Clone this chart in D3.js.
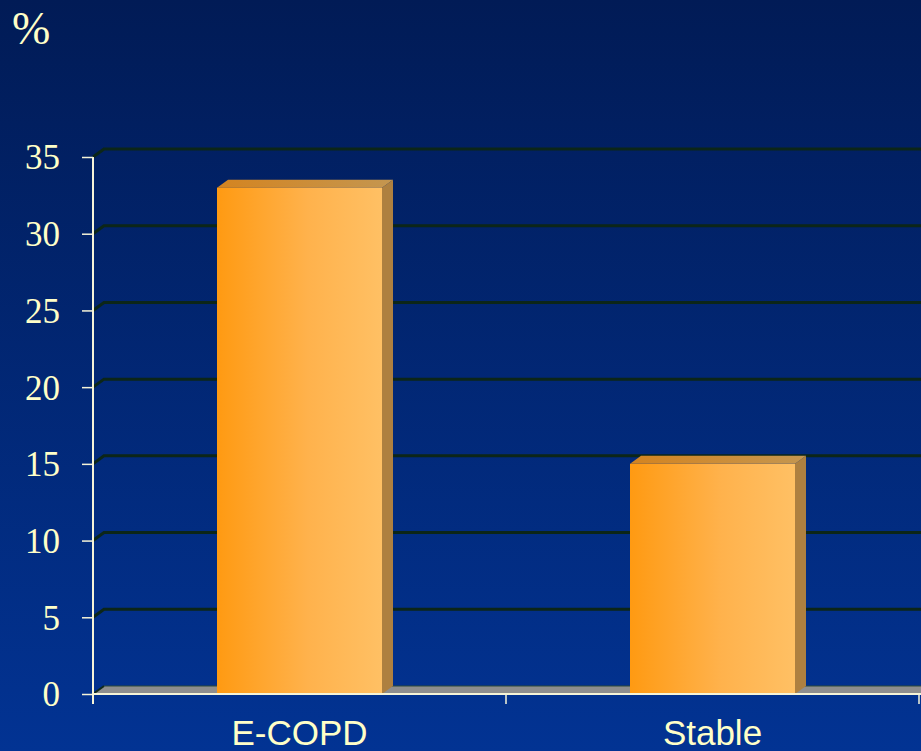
<!DOCTYPE html>
<html>
<head>
<meta charset="utf-8">
<script src="https://cdn.jsdelivr.net/npm/d3@7"></script>
<style>
  html, body { margin: 0; padding: 0; background: #012060; }
  svg { display: block; }
</style>
</head>
<body>
<svg id="chart" width="921" height="751"></svg>
<script>
// Chart data
const categories = ["E-COPD", "Stable"];
const values = [33, 15];
const yTicks = [0, 5, 10, 15, 20, 25, 30, 35];
const unitLabel = "%";

const W = 921, H = 751;
const svg = d3.select("#chart");
const defs = svg.append("defs");

// Background: navy gradient, darker at top
const bg = defs.append("linearGradient").attr("id", "bg").attr("x1", 0).attr("y1", 0).attr("x2", 0).attr("y2", 1);
bg.append("stop").attr("offset", "0%").attr("stop-color", "#011b56");
bg.append("stop").attr("offset", "100%").attr("stop-color", "#023393");
svg.append("rect").attr("width", W).attr("height", H).attr("fill", "url(#bg)");

// Bar face gradients
const front = defs.append("linearGradient").attr("id", "front").attr("x1", 0).attr("y1", 0).attr("x2", 1).attr("y2", 0);
front.append("stop").attr("offset", "0%").attr("stop-color", "#ff9a12");
front.append("stop").attr("offset", "55%").attr("stop-color", "#ffb24c");
front.append("stop").attr("offset", "100%").attr("stop-color", "#ffc064");
const topG = defs.append("linearGradient").attr("id", "topface").attr("x1", 0).attr("y1", 0).attr("x2", 1).attr("y2", 0);
topG.append("stop").attr("offset", "0%").attr("stop-color", "#d48420");
topG.append("stop").attr("offset", "100%").attr("stop-color", "#c49650");

// Layout
const x0 = 93, x1 = 919;
const depthX = 11, depthY = -8;
const y = d3.scaleLinear().domain([0, 35]).range([694, 157]);
const x = d3.scaleBand().domain(categories).range([x0, x1]).paddingInner(0).paddingOuter(0);
const barW = 165;

// Floor (gray depth plane under zero line)
svg.append("path")
  .attr("d", `M${x0},${y(0)} L${x0 + depthX},${y(0) + depthY} L${W + 20},${y(0) + depthY} L${W + 20},${y(0)} Z`)
  .attr("fill", "#8e8e8e");
svg.append("line")
  .attr("x1", x0).attr("y1", y(0)).attr("x2", x0 + depthX).attr("y2", y(0) + depthY)
  .attr("stroke", "#0f2a1e").attr("stroke-width", 2);
svg.append("line")
  .attr("x1", x0 + depthX).attr("y1", y(0) + depthY).attr("x2", W + 20).attr("y2", y(0) + depthY)
  .attr("stroke", "#2d4a3a").attr("stroke-width", 1);

// Gridlines on the back wall with a diagonal link to the axis
const grid = svg.append("g");
yTicks.filter(v => v > 0).forEach(v => {
  grid.append("path")
    .attr("d", `M${x0},${y(v)} L${x0 + depthX},${y(v) + depthY} L${W + 20},${y(v) + depthY}`)
    .attr("fill", "none")
    .attr("stroke", "#0c2618")
    .attr("stroke-width", 3);
});

// 3D bars
const bars = svg.append("g");
categories.forEach((c, i) => {
  const v = values[i];
  const bx = x(c) + (x.bandwidth() - barW) / 2;
  const by = y(v), b0 = y(0);
  // side face
  bars.append("path")
    .attr("d", `M${bx + barW},${by} L${bx + barW + depthX},${by + depthY} L${bx + barW + depthX},${b0 + depthY} L${bx + barW},${b0} Z`)
    .attr("fill", "#ae8040");
  // top face
  bars.append("path")
    .attr("d", `M${bx},${by} L${bx + depthX},${by + depthY} L${bx + barW + depthX},${by + depthY} L${bx + barW},${by} Z`)
    .attr("fill", "url(#topface)");
  // front face
  bars.append("rect")
    .attr("x", bx).attr("y", by).attr("width", barW).attr("height", b0 - by)
    .attr("fill", "url(#front)");
});

// Axes
const axisColor = "#f6f4d8";
const yAxis = d3.axisLeft(y).tickValues(yTicks).tickSize(11).tickPadding(0).tickFormat(d3.format("d"));
const gy = svg.append("g").attr("transform", `translate(${x0},0)`).call(yAxis);
gy.select(".domain").remove();
gy.selectAll(".tick line").attr("stroke", axisColor).attr("stroke-width", 1.5);
gy.selectAll(".tick text")
  .attr("x", -33)
  .attr("dy", "0.34em")
  .attr("fill", "#ffffc8")
  .style("font-family", "'Liberation Serif', 'Times New Roman', serif")
  .style("font-size", "35px");
svg.append("line")
  .attr("x1", x0).attr("y1", y(35)).attr("x2", x0).attr("y2", y(0) + 10)
  .attr("stroke", axisColor).attr("stroke-width", 2);

const xAxis = d3.axisBottom(x).tickSize(0).tickPadding(0);
const gx = svg.append("g").attr("transform", `translate(0,${y(0)})`).call(xAxis);
gx.select(".domain").remove();
gx.selectAll(".tick text")
  .attr("y", 51).attr("dy", 0)
  .attr("fill", "#ffffc8")
  .style("font-family", "'Liberation Sans', Arial, sans-serif")
  .style("font-size", "35px");
// category boundary ticks
svg.append("g").selectAll("line")
  .data([x0, x0 + x.bandwidth(), x0 + 2 * x.bandwidth()])
  .join("line")
  .attr("x1", d => d).attr("x2", d => d)
  .attr("y1", y(0)).attr("y2", y(0) + 10)
  .attr("stroke", axisColor).attr("stroke-width", 1.5);
svg.append("line")
  .attr("x1", x0).attr("y1", y(0)).attr("x2", W + 20).attr("y2", y(0))
  .attr("stroke", axisColor).attr("stroke-width", 2);

// Unit label
svg.append("text")
  .attr("x", 12).attr("y", 44)
  .attr("fill", "#ffffc8")
  .style("font-family", "'Liberation Serif', 'Times New Roman', serif")
  .style("font-size", "46px")
  .text(unitLabel);
</script>
</body>
</html>
